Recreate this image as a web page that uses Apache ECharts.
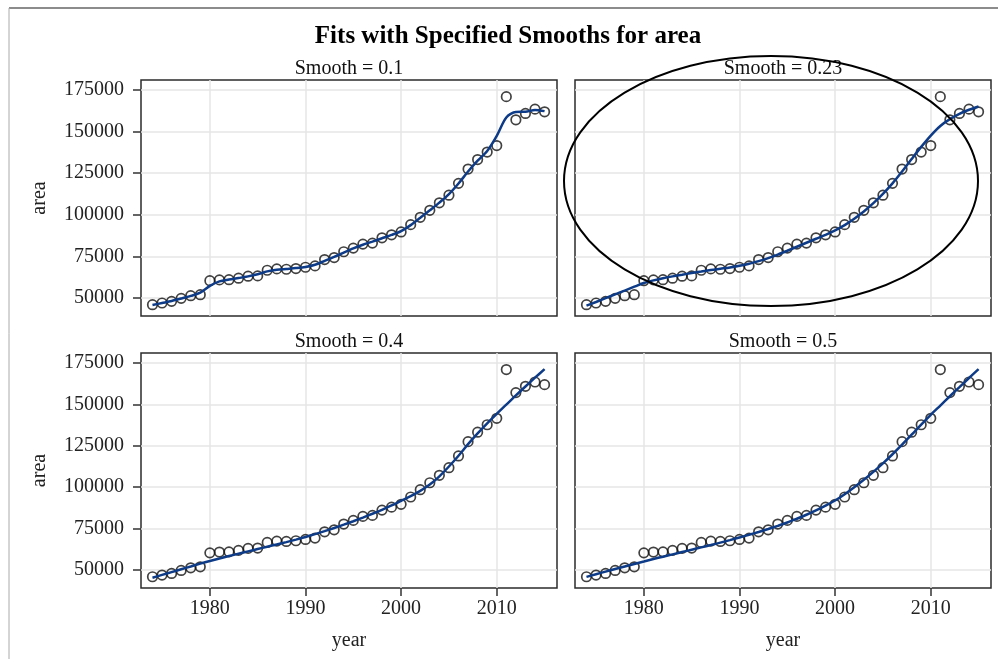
<!DOCTYPE html>
<html>
<head>
<meta charset="utf-8">
<script src="https://cdn.jsdelivr.net/npm/echarts@6/dist/echarts.min.js"></script>
<style>
html,body{margin:0;padding:0;background:#fff;}
#main{width:998px;height:659px;}
</style>
</head>
<body>
<div id="main"></div>
<script>
// ---- data ----
const years = [1974,1975,1976,1977,1978,1979,1980,1981,1982,1983,1984,1985,1986,1987,1988,1989,1990,1991,1992,1993,1994,1995,1996,1997,1998,1999,2000,2001,2002,2003,2004,2005,2006,2007,2008,2009,2010,2011,2012,2013,2014,2015];
const area = [46000,47000,48000,49800,51400,52000,60400,60900,61000,61900,63100,63300,66700,67500,67300,67700,68500,69300,73100,74300,77800,80000,82400,83000,86200,88000,89700,94100,98500,102700,107200,111800,118900,127500,133200,137700,141600,171000,157100,160900,163500,161900];
const fitSmooth01 = [45800,47000,48200,49700,51300,53200,57300,60000,61100,62000,63000,64300,66000,67000,67500,68000,68700,70000,72300,74700,77300,79800,82000,83900,85900,87900,90200,93800,98200,102700,107300,112400,118800,126000,132500,138400,147500,158500,161800,161900,163000,162300];
const fitSmooth023 = [45400,47600,49900,52200,54500,56800,59000,60600,61900,63000,64000,65000,65900,66800,67600,68400,69400,70600,72200,74000,76100,78400,80800,83200,85600,88000,90700,93800,97600,102000,107000,112600,118900,126000,133500,140800,147600,153400,157500,160700,163100,165100];
const fitSmooth04 = [45400,47100,48800,50500,52200,53900,55500,57000,58500,59900,61300,62700,64100,65500,66900,68400,70000,71700,73500,75400,77400,79500,81700,84000,86400,89000,91800,94600,97800,101600,106600,112500,119000,126000,132500,138600,144300,149800,155400,160800,166100,171300];
const fitSmooth05 = [45900,47500,49100,50700,52200,53700,55200,56700,58100,59500,60900,62300,63700,65100,66600,68100,69700,71300,73000,74800,76700,78700,81000,83400,86000,88900,92000,95800,100000,104500,109300,114400,119900,125700,131700,137800,143700,149300,154900,160400,165900,171300];
const panelTitles = ['Smooth = 0.1','Smooth = 0.23','Smooth = 0.4','Smooth = 0.5'];
const fits = [fitSmooth01, fitSmooth023, fitSmooth04, fitSmooth05];
const yTicks = [50000,75000,100000,125000,150000,175000];
const xTicks = [1980,1990,2000,2010];
const mainTitle = 'Fits with Specified Smooths for area';

// ---- chart ----
const FONT = '"Liberation Serif","Times New Roman",serif';
const chart = echarts.init(document.getElementById('main'), null, {renderer:'canvas'});
const gridPos = [
  {left:141, top:80, width:416, height:236},
  {left:575, top:80, width:416, height:236},
  {left:141, top:353, width:416, height:235},
  {left:575, top:353, width:416, height:235}
];
const grids = gridPos.map(g => Object.assign({show:true, borderColor:'#2b2b2b', borderWidth:1.5, backgroundColor:'#fff', containLabel:false}, g));
const xAxes = gridPos.map((g,i) => ({
  type:'value', gridIndex:i, min:1972.8, max:2016.3,
  axisLine:{show:false},
  axisTick:{show:i>=2, length:8, lineStyle:{color:'#333', width:1.5}, customValues:xTicks},
  axisLabel:{show:i>=2, customValues:xTicks, margin:11, color:'#222', fontFamily:FONT, fontSize:20, formatter:v=>String(v)},
  splitLine:{show:true, lineStyle:{color:'#e6e6e6', width:1.5}},
  name: i>=2 ? 'year' : '', nameLocation:'middle', nameGap:43,
  nameTextStyle:{fontFamily:FONT, fontSize:20, color:'#222'}
}));
const yAxes = gridPos.map((g,i) => ({
  type:'value', gridIndex:i, min:39200, max:181000,
  axisLine:{show:false},
  axisTick:{show:i%2===0, length:8, lineStyle:{color:'#333', width:1.5}, customValues:yTicks},
  axisLabel:{show:i%2===0, customValues:yTicks, margin:17, color:'#222', fontFamily:FONT, fontSize:20, formatter:v=>String(v)},
  splitLine:{show:true, lineStyle:{color:'#e6e6e6', width:1.5}},
  name: i%2===0 ? 'area' : '', nameLocation:'middle', nameGap:91, nameRotate:90,
  nameTextStyle:{fontFamily:FONT, fontSize:20, color:'#222'}
}));
const series = [];
for (let i=0;i<4;i++){
  series.push({
    type:'scatter', xAxisIndex:i, yAxisIndex:i, z:3,
    data: years.map((y,k)=>[y, area[k]]),
    symbol:'circle', symbolSize:9.5,
    itemStyle:{color:'rgba(0,0,0,0)', borderColor:'#111', borderWidth:1.7},
    silent:true
  });
  series.push({
    type:'line', xAxisIndex:i, yAxisIndex:i, z:4,
    data: years.map((y,k)=>[y, fits[i][k]]),
    showSymbol:false, smooth:0.3,
    lineStyle:{color:'#0d3b87', width:2.5},
    silent:true
  });
}
const graphics = [
  {type:'line', shape:{x1:9,y1:8,x2:998,y2:8}, style:{stroke:'#666', lineWidth:1.5}, silent:true},
  {type:'line', shape:{x1:9,y1:8,x2:9,y2:659}, style:{stroke:'#aaa', lineWidth:1}, silent:true},
  {type:'text', x:508, y:37, style:{text:mainTitle, font:'bold 25px '+FONT, fill:'#000', textAlign:'center', textVerticalAlign:'middle'}, silent:true}
];
const titleCenters = [[349,69],[783,69],[349,342],[783,342]];
panelTitles.forEach((t,i)=>{
  graphics.push({type:'text', x:titleCenters[i][0], y:titleCenters[i][1], z:10,
    style:{text:t, font:'20px '+FONT, fill:'#111', textAlign:'center', textVerticalAlign:'middle'}, silent:true});
});
graphics.push({type:'ellipse', z:100, shape:{cx:771, cy:181, rx:207, ry:125}, style:{fill:null, stroke:'#000', lineWidth:2}, silent:true});

chart.setOption({
  animation:false,
  backgroundColor:'#fff',
  grid:grids, xAxis:xAxes, yAxis:yAxes, series:series,
  graphic:{elements:graphics}
});
</script>
</body>
</html>
